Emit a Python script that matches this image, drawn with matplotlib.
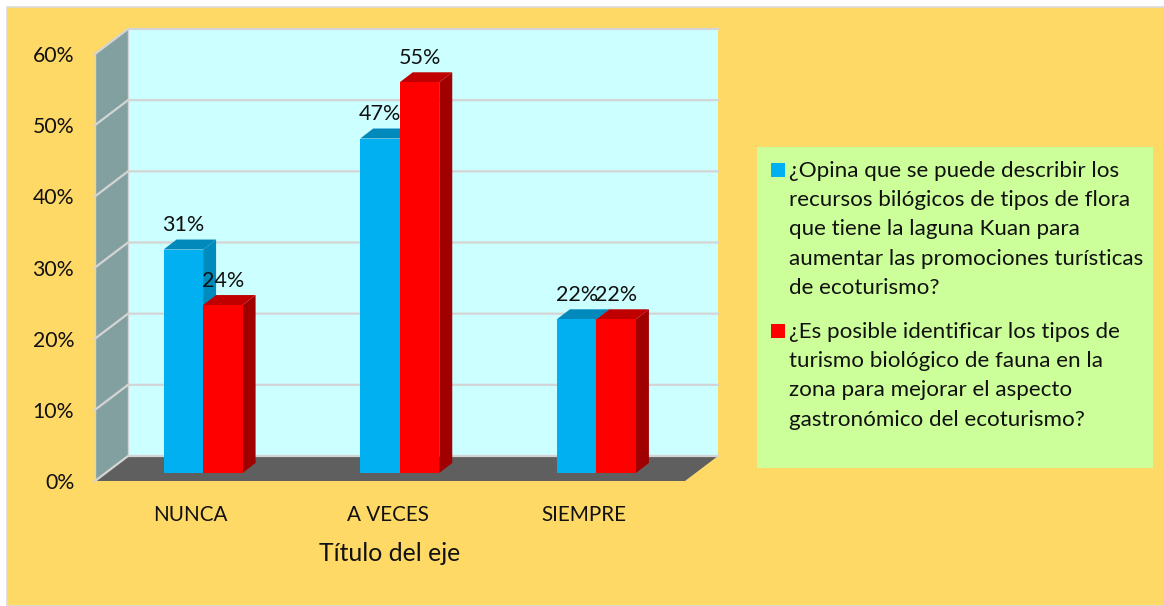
import matplotlib
matplotlib.use('Agg')
import matplotlib.pyplot as plt
from matplotlib.patches import Polygon, Rectangle
from matplotlib.transforms import ScaledTranslation

categories = ['NUNCA', 'A VECES', 'SIEMPRE']
flora_values = [31.4, 47, 21.6]
fauna_values = [23.6, 54.9, 21.6]
flora_labels = ['31%', '47%', '22%']
fauna_labels = ['24%', '55%', '22%']
y_ticks = [0, 10, 20, 30, 40, 50, 60]
y_tick_labels = ['0%', '10%', '20%', '30%', '40%', '50%', '60%']
legend_flora = ['¿Opina que se puede describir los',
                'recursos bilógicos de tipos de flora',
                'que tiene la laguna Kuan para',
                'aumentar las promociones turísticas',
                'de ecoturismo?']
legend_fauna = ['¿Es posible identificar los tipos de',
                'turismo biológico de fauna en la',
                'zona para mejorar el aspecto',
                'gastronómico del ecoturismo?']

W, H = 1164, 606
FONT = 'Lato'
BG = '#FFD966'
WALL = '#CCFFFF'
SIDE_WALL = '#82A0A0'
FLOOR = '#5F5F5F'
GRID = '#D4D4D4'
BLUE = ('#00B0F0', '#008BBD', '#0089BA')
RED = ('#FF0000', '#A00000', '#C00000')

plt.rcParams['font.family'] = [FONT, 'DejaVu Sans']

fig = plt.figure(figsize=(W / 100, H / 100), dpi=100, facecolor='white')


def px_box(x0, y0, x1, y1):
    # pixel box (top-left origin) to figure fractions
    return [x0 / W, 1 - y1 / H, (x1 - x0) / W, (y1 - y0) / H]


def fx(x):
    return x / W


def fy(y):
    return 1 - y / H


# background panel
fig.patches.append(Rectangle((fx(6.5), fy(606)), fx(1158), fy(6.5) - fy(606),
                             transform=fig.transFigure, facecolor=BG,
                             edgecolor='#DADADA', linewidth=1.2))

# front plane of the 3d box
ax = fig.add_axes(px_box(95, 54, 685, 481))
ax.set_zorder(5)
ax.patch.set_visible(False)
ax.set_xlim(-0.5, 2.5)
ax.set_ylim(0, 60)
for s in ax.spines.values():
    s.set_visible(False)

UX = 3 / 590   # data units for one pixel
UY = 60 / 427
box_dx, box_dy = 33 * UX, 25 * UY
bar_x0, bar_y0 = 9.75 * UX, 8 * UY   # bars stand a little behind the front edge
bar_dx, bar_dy = 13 * UX, 10 * UY
bar_w = 39.5 * UX


def poly(pts, color, z, ec='none', lw=0):
    ax.add_patch(Polygon(pts, closed=True, facecolor=color, edgecolor=ec,
                         linewidth=lw, zorder=z, clip_on=False))


# back wall, side wall, floor
poly([(-0.5 + box_dx, box_dy), (2.5 + box_dx, box_dy),
      (2.5 + box_dx, 60 + box_dy), (-0.5 + box_dx, 60 + box_dy)], WALL, 1)
poly([(-0.5, 0), (-0.5 + box_dx, box_dy),
      (-0.5 + box_dx, 60 + box_dy), (-0.5, 60)], SIDE_WALL, 1)
poly([(-0.5, 0), (2.5, 0), (2.5 + box_dx, box_dy), (-0.5 + box_dx, box_dy)], FLOOR, 2)

# gridlines bend round the corner of the box
for t in y_ticks:
    ax.plot([-0.5, -0.5 + box_dx, 2.5 + box_dx], [t, t + box_dy, t + box_dy],
            color=GRID, lw=1.6, zorder=3, clip_on=False, solid_joinstyle='miter')
ax.plot([-0.5 + box_dx, -0.5 + box_dx], [box_dy, 60 + box_dy], color=GRID, lw=1,
        zorder=3, clip_on=False)
ax.plot([-0.5, -0.5], [0, 60], color=GRID, lw=1, zorder=3, clip_on=False)


def draw_bar(x_left, val, colors, z):
    front, side, top = colors
    x0, x1 = x_left, x_left + bar_w
    y0, y1 = bar_y0, val + bar_y0
    poly([(x1, y0), (x1 + bar_dx, y0 + bar_dy), (x1 + bar_dx, y1 + bar_dy), (x1, y1)], side, z)
    poly([(x0, y1), (x1, y1), (x1 + bar_dx, y1 + bar_dy), (x0 + bar_dx, y1 + bar_dy)], top, z)
    ax.bar(x_left, val, width=bar_w, bottom=bar_y0, align='edge', color=front,
           linewidth=0, zorder=z + 0.1, clip_on=False)


for i, cat in enumerate(categories):
    mid = i + bar_x0
    draw_bar(mid - bar_w, flora_values[i], BLUE, 5)
    draw_bar(mid, fauna_values[i], RED, 6)
    ax.text(mid - bar_w / 2, flora_values[i] + bar_y0 + 24.5 * UY, flora_labels[i],
            ha='center', va='center', fontsize=15.5, color='#111111', zorder=8)
    ax.text(mid + bar_w / 2, fauna_values[i] + bar_y0 + 24.5 * UY, fauna_labels[i],
            ha='center', va='center', fontsize=15.5, color='#111111', zorder=8)

ax.set_yticks(y_ticks)
ax.set_yticklabels(y_tick_labels, fontsize=15.3, color='#111111')
ax.set_xticks(range(len(categories)))
ax.set_xticklabels(categories, fontsize=14.9, color='#111111')
ax.tick_params(axis='y', length=0, pad=15)
ax.tick_params(axis='x', length=0, pad=17.6)
shift = ScaledTranslation(-2.5 / 100, 0, fig.dpi_scale_trans)
for lab in ax.get_xticklabels():
    lab.set_transform(lab.get_transform() + shift)
ax.set_xlabel('Título del eje', fontsize=17.8, color='#111111', labelpad=11.6)

# legend panel, text set line by line as in the original
fig.patches.append(Rectangle((fx(757), fy(468)), fx(396), fy(147) - fy(468),
                             transform=fig.transFigure, facecolor='#CCFF99',
                             edgecolor='none'))
LINE = 29.2
for y0, lines, color in [(170, legend_flora, BLUE[0]), (331, legend_fauna, RED[0])]:
    fig.patches.append(Rectangle((fx(771), fy(y0 + 7)), fx(14), fy(y0 - 7) - fy(y0 + 7),
                                 transform=fig.transFigure, facecolor=color,
                                 edgecolor='none'))
    for j, line in enumerate(lines):
        fig.text(fx(789), fy(y0 + 1 + j * LINE), line, ha='left', va='center',
                 fontsize=16.1, color='#111111')

fig.savefig('out.png', dpi=100)
plt.close(fig)
